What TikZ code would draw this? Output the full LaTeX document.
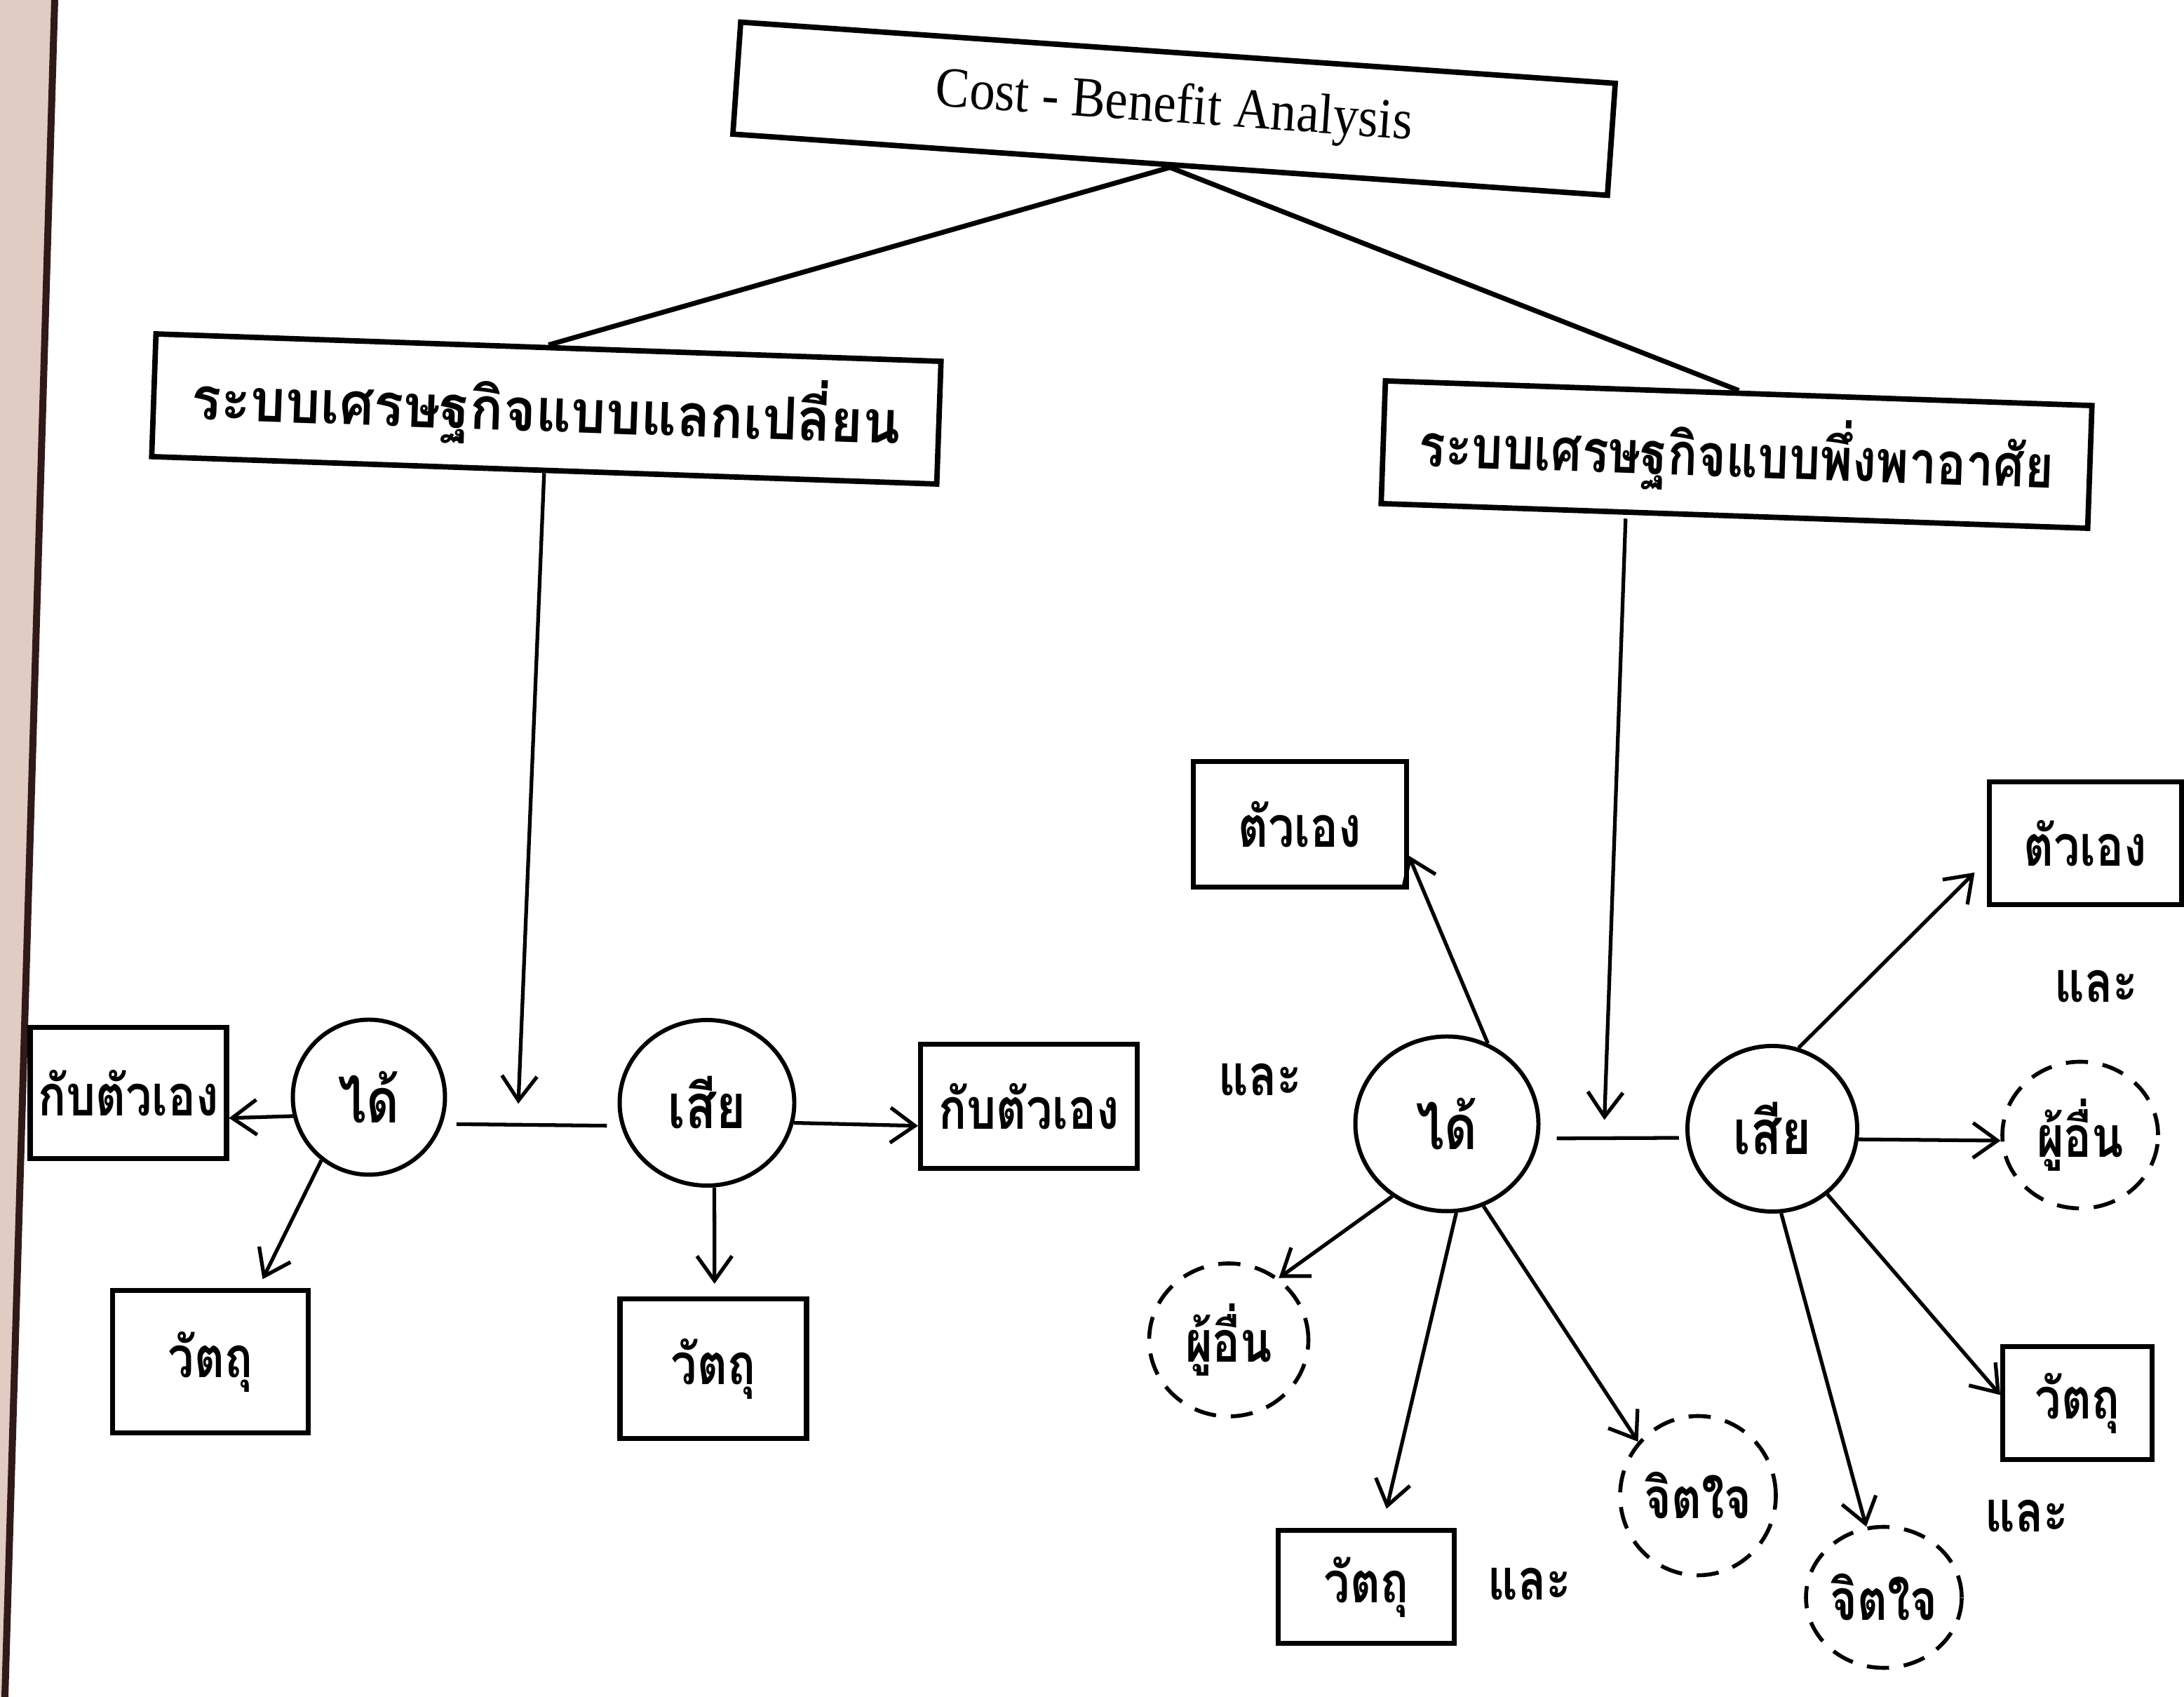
\documentclass[tikz,border=0pt]{standalone}
\usepackage{fontspec}
\setmainfont{Liberation Serif}
\newfontfamily\thaifont[Script=Thai]{Loma}
\newfontfamily\thainarrow[Script=Thai, FakeStretch=0.82]{Loma}
\usetikzlibrary{arrows.meta}
\usetikzlibrary{shapes.geometric}
\definecolor{pageedge}{RGB}{224,204,194}
\definecolor{edgeline}{RGB}{50,25,25}
\tikzstyle{heading}=[draw, line width=2.2pt, minimum width=12.5cm, minimum height=1.6cm, rotate=-4, font=\fontsize{23}{26}\selectfont]
\tikzstyle{system}=[draw, line width=2.2pt, minimum height=1.75cm, rotate=-2, font=\thaifont\bfseries\fontsize{24}{28}\selectfont]
\tikzstyle{target}=[draw, line width=2pt, inner sep=0pt, font=\thainarrow\bfseries\fontsize{23}{26}\selectfont]
\tikzstyle{outcome}=[draw, ellipse, line width=1.7pt, inner sep=0pt, font=\thainarrow\bfseries\fontsize{25}{28}\selectfont]
\tikzstyle{soft target}=[outcome, dash pattern=on 9pt off 6pt, line width=1.6pt, font=\thainarrow\bfseries\fontsize{23}{26}\selectfont]
\tikzstyle{word}=[font=\thainarrow\bfseries\fontsize{23}{26}\selectfont]
\tikzstyle{branch}=[line width=2pt]
\tikzstyle{flow}=[line width=1.5pt, -{Straight Barb[length=3.5mm, width=5mm]}]

\begin{document}
\begin{tikzpicture}
    \useasboundingbox (0, 0) rectangle (31.14, 24.19);
    \fill[pageedge] (0, 0) -- (0.07, 0) -- (0.78, 24.19) -- (0, 24.19) -- cycle;
    \draw[edgeline, line width=0.1cm] (0.07, 0) -- (0.78, 24.19);

    \node[heading] (cba) at (16.74, 22.64) {\scalebox{0.9}[1]{Cost - Benefit Analysis}};
    \node[system, minimum width=11.2cm] (exch) at (7.79, 18.36) {\scalebox{0.93}[1]{ระบบเศรษฐกิจแบบแลกเปลี่ยน}};
    \node[system, minimum width=10.08cm] (dep) at (24.76, 17.71) {\scalebox{0.83}[1]{ระบบเศรษฐกิจแบบพึ่งพาอาศัย}};

    % exchange side
    \node[outcome, minimum width=2.17cm, minimum height=2.21cm] (gainL) at (5.26, 8.55) {ได้};
    \node[outcome, minimum width=2.49cm, minimum height=2.36cm] (lossL) at (10.08, 8.47) {เสีย};
    \node[target, minimum width=2.8cm, minimum height=1.87cm] (selfL) at (1.83, 8.61) {กับตัวเอง};
    \node[target, minimum width=3.09cm, minimum height=1.77cm] (selfLb) at (14.67, 8.42) {กับตัวเอง};
    \node[target, minimum width=2.79cm, minimum height=2.03cm] (thingL) at (3.00, 4.78) {วัตถุ};
    \node[target, minimum width=2.66cm, minimum height=1.99cm] (thingLb) at (10.17, 4.68) {วัตถุ};

    % dependence side
    \node[outcome, minimum width=2.61cm, minimum height=2.49cm] (gainR) at (20.63, 8.17) {ได้};
    \node[outcome, minimum width=2.42cm, minimum height=2.36cm] (lossR) at (25.27, 8.10) {เสีย};
    \node[target, minimum width=3.04cm, minimum height=1.79cm] (selfR) at (18.53, 12.44) {ตัวเอง};
    \node[target, minimum width=2.74cm, minimum height=1.75cm] (selfRb) at (29.73, 12.17) {ตัวเอง};
    \node[soft target, minimum width=2.27cm, minimum height=2.18cm] (othersR) at (17.52, 5.09) {ผู้อื่น};
    \node[target, minimum width=2.51cm, minimum height=1.61cm] (thingR) at (19.48, 1.57) {วัตถุ};
    \node[soft target, minimum width=2.22cm, minimum height=2.27cm] (mindR) at (24.21, 2.87) {จิตใจ};
    \node[soft target, minimum width=2.22cm, minimum height=2.09cm] (othersRb) at (29.66, 8.01) {ผู้อื่น};
    \node[target, minimum width=2.13cm, minimum height=1.61cm] (thingRb) at (29.62, 4.19) {วัตถุ};
    \node[soft target, minimum width=2.22cm, minimum height=2.01cm] (mindRb) at (26.86, 1.42) {จิตใจ};
    \node[word] (andA) at (17.97, 8.80) {และ};
    \node[word] (andB) at (29.89, 10.13) {และ};
    \node[word] (andC) at (21.81, 1.61) {และ};
    \node[word] (andD) at (28.90, 2.58) {และ};

    \draw[branch] (cba.south) -- (exch.north);
    \draw[branch] (cba.south) -- (dep.north);

    \draw[flow, -, shorten <=0.2cm, shorten >=0.2cm] (gainL.-20)
      -- coordinate[pos=0.42] (midL) (lossL.195);
    \draw[flow, -, shorten <=0.25cm, shorten >=0.1cm] (gainR.-9)
      -- coordinate[pos=0.44] (midR) (lossR.186);
    \draw[flow, shorten >=0.3cm] (exch.south) -- (midL);
    \draw[flow, shorten >=0.26cm] ([xshift=-1.55cm]dep.south) -- (midR);

    \draw[flow] (gainL.194) -- (selfL.-14);
    \draw[flow] (lossL.-13) -- (selfLb.190);
    \draw[flow, shorten >=0.14cm] (gainL.233) -- (thingL.57);
    \draw[flow, shorten >=0.18cm] (lossL.-85) -- (thingLb.89);

    \draw[flow] (gainR.63) -- (selfR.-16);
    \draw[flow] (gainR.233) -- (othersR.51);
    \draw[flow, shorten >=0.28cm] (gainR.-84) -- (thingR.75);
    \draw[flow] (gainR.-66) -- (mindR.138);
    \draw[flow, shorten >=0.24cm] (lossR.72) -- (selfRb.190);
    \draw[flow] (lossR.-7) -- (othersRb.184);
    \draw[flow] (lossR.-50) -- (thingRb.174);
    \draw[flow] (lossR.-84) -- (mindRb.104);
\end{tikzpicture}
\end{document}
